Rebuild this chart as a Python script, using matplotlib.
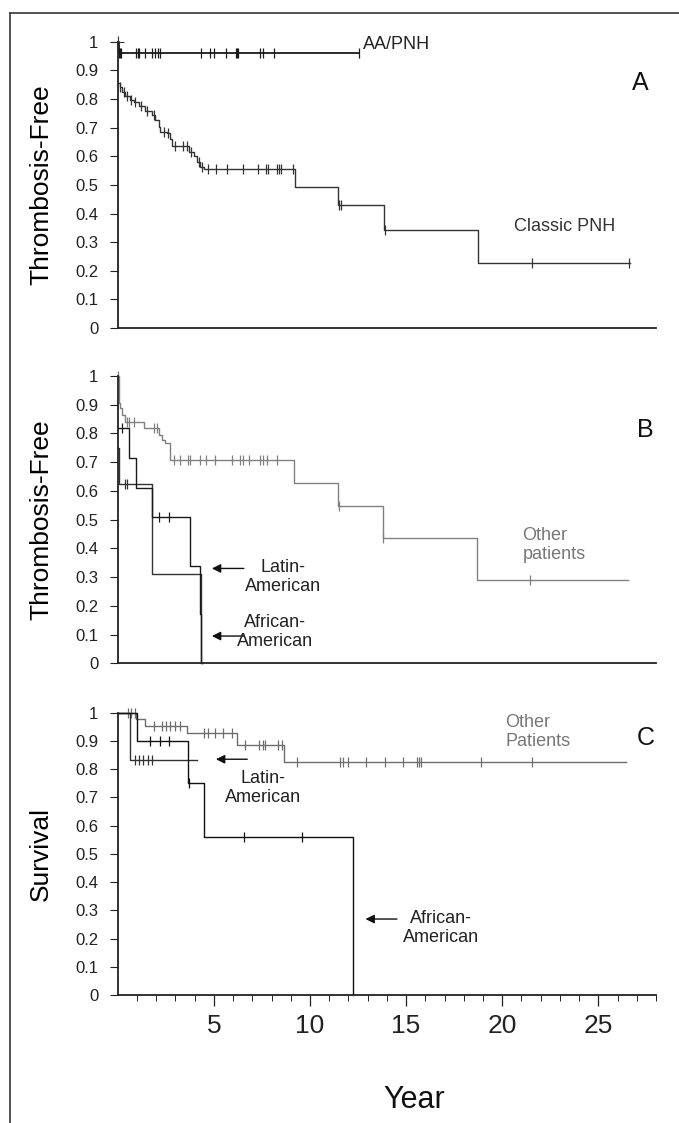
import numpy as np
import matplotlib
matplotlib.use("Agg")
import matplotlib.pyplot as plt
from matplotlib.lines import Line2D

plt.rcParams['font.family'] = ['Liberation Sans', 'DejaVu Sans']

# ---- panel A: thrombosis-free, AA/PNH vs classic PNH
aa_t = [0.0, 0.05, 12.54]
aa_s = [1.0, 0.96, 0.96]
aa_cens = [0.05, 0.09, 0.15, 0.95, 1.05, 1.12, 1.40, 1.78, 1.92, 2.07, 2.21, 4.31, 4.82,
           4.99, 5.65, 6.15, 6.21, 6.27, 7.42, 7.56, 8.11, 12.54]

cl_t = [0.0, 0.09, 0.22, 0.39, 0.65, 0.82, 1.08, 1.43, 1.78, 1.95, 2.13, 2.21, 2.56, 2.73,
        2.82, 3.69, 3.95, 4.13, 4.30, 4.47, 4.61, 9.20, 11.48, 13.87, 18.74, 26.64]
cl_s = [0.855, 0.843, 0.825, 0.81, 0.796, 0.79, 0.775, 0.759, 0.744, 0.726, 0.703, 0.686,
        0.68, 0.659, 0.636, 0.616, 0.601, 0.581, 0.563, 0.554, 0.554, 0.494, 0.43, 0.342,
        0.228, 0.228]
cl_cens = [0.1, 0.3, 0.5, 0.7, 0.9, 1.2, 1.5, 1.9, 2.4, 2.6, 3.0, 3.4, 3.6, 3.8, 4.2, 4.4,
           4.7, 5.1, 5.7, 6.5, 7.3, 7.7, 7.8, 8.3, 8.4, 8.5, 9.1, 11.5, 11.6, 13.9, 21.54, 26.6]

# ---- panel B: thrombosis-free by ethnicity
ob_t = [0.0, 0.04, 0.13, 0.22, 0.39, 1.34, 2.13, 2.30, 2.47, 2.73, 9.16, 11.45, 13.81, 18.71, 26.52]
ob_s = [1.0, 0.904, 0.887, 0.863, 0.84, 0.817, 0.794, 0.776, 0.765, 0.707, 0.626, 0.548,
        0.435, 0.29, 0.29]
ob_cens = [0.0, 0.48, 0.6, 0.82, 1.86, 2.04, 2.91, 3.26, 3.64, 3.74, 4.30, 4.61, 5.08, 5.95,
           6.38, 6.52, 6.81, 7.39, 7.56, 7.77, 8.29, 11.5, 13.81, 21.45]

lb_t = [0.0, 0.04, 1.78, 4.35, 4.4]
lb_s = [0.75, 0.625, 0.31, 0.0, 0.0]
lb_cens = [0.39, 0.48]

ab_t = [0.0, 0.56, 0.95, 1.78, 3.78, 4.3, 4.35, 4.4]
ab_s = [0.817, 0.713, 0.608, 0.51, 0.34, 0.17, 0.0, 0.0]
ab_cens = [0.24, 2.13, 2.65]

# ---- panel C: survival by ethnicity
oc_t = [0.0, 0.96, 1.4, 3.61, 6.22, 8.63, 26.45]
oc_s = [1.0, 0.977, 0.954, 0.927, 0.886, 0.826, 0.826]
oc_cens = [0.53, 0.7, 0.92, 1.88, 2.3, 2.5, 2.7, 3.0, 3.23, 4.48, 4.68, 5.06, 5.45, 5.93,
           6.6, 7.37, 7.57, 7.66, 8.34, 8.53, 9.3, 11.57, 11.71, 11.96, 12.92, 13.89,
           14.85, 15.56, 15.66, 15.76, 18.9, 21.54]

lc_t = [0.0, 0.63, 4.13]
lc_s = [1.0, 0.832, 0.832]
lc_cens = [0.92, 1.11, 1.3, 1.59, 1.79]

ac_t = [0.0, 1.01, 3.67, 4.5, 12.23, 12.25]
ac_s = [1.0, 0.90, 0.75, 0.559, 0.0, 0.0]
ac_cens = [1.69, 2.17, 2.65, 3.69, 6.55, 9.59]

yticks = [0, 0.1, 0.2, 0.3, 0.4, 0.5, 0.6, 0.7, 0.8, 0.9, 1]
ytick_labels = ["0", "0.1", "0.2", "0.3", "0.4", "0.5", "0.6", "0.7", "0.8", "0.9", "1"]
xticks = [5, 10, 15, 20, 25]


def km(ax, t, s, cens, color, lw=1.0):
    """step curve plus censor ticks"""
    ax.step(t, s, where="post", color=color, lw=lw, clip_on=False)
    t = np.asarray(t)
    s = np.asarray(s)
    idx = np.searchsorted(t, cens, side="right") - 1
    idx = np.clip(idx, 0, len(s) - 1)
    ax.plot(cens, s[idx], ls="none", marker="|", ms=7, mew=0.9, color=color, clip_on=False)


def style_axes(ax, show_xlabels):
    ax.set_xlim(0, 28)
    ax.set_ylim(0, 1)
    for side in ["top", "right"]:
        ax.spines[side].set_visible(False)
    for side in ["left", "bottom"]:
        ax.spines[side].set_linewidth(1.3)
        ax.spines[side].set_color("#222222")
    ax.set_yticks(yticks)
    ax.set_yticklabels(ytick_labels)
    ax.tick_params(axis="y", direction="out", length=6, width=0.8, labelsize=12,
                   colors="#222222", pad=8)
    ax.set_xticks(xticks)
    ax.set_xticks(np.arange(1, 29), minor=True)
    ax.tick_params(axis="x", which="major", direction="out", length=8, width=0.9,
                   labelsize=19, colors="#222222", pad=6)
    ax.tick_params(axis="x", which="minor", direction="out", length=4, width=0.7,
                   colors="#222222")
    if not show_xlabels:
        ax.set_xticklabels([])
        ax.tick_params(axis="x", which="both", length=0)


fig = plt.figure(figsize=(6.79, 11.23), dpi=100)

left, width = 0.1735, 0.7926
axA = fig.add_axes([left, 0.7079, width, 0.2549])
axB = fig.add_axes([left, 0.4093, width, 0.2561])
axC = fig.add_axes([left, 0.1140, width, 0.2514])

# panel A
km(axA, aa_t, aa_s, aa_cens, "#1a1a1a", lw=1.3)
km(axA, cl_t, cl_s, cl_cens, "#333333")
axA.plot([0], [1.0], ls="none", marker="+", ms=9, mew=0.8, color="#333333", clip_on=False)
style_axes(axA, False)
axA.set_ylabel("Thrombosis-Free", fontsize=19, labelpad=16)
axA.text(12.75, 0.99, "AA/PNH", fontsize=13, ha="left", va="center", color="#222222")
axA.text(20.6, 0.354, "Classic PNH", fontsize=13, ha="left", va="center", color="#333333")
axA.text(27.17, 0.856, "A", fontsize=18, ha="center", va="center", color="#111111")

# panel B
km(axB, ob_t, ob_s, ob_cens, "#808080")
km(axB, lb_t, lb_s, lb_cens, "#333333")
km(axB, ab_t, ab_s, ab_cens, "#1a1a1a")
style_axes(axB, False)
axB.set_ylabel("Thrombosis-Free", fontsize=19, labelpad=16)
axB.text(21.06, 0.41, "Other\npatients", fontsize=13, ha="left", va="center",
         color="#777777", linespacing=1.15)
axB.text(27.43, 0.811, "B", fontsize=18, ha="center", va="center", color="#111111")
arrow = dict(arrowstyle="-|>", color="#111111", lw=1.0, mutation_scale=13)
axB.annotate("", xy=(4.75, 0.33), xytext=(6.7, 0.33), arrowprops=arrow)
axB.text(8.6, 0.30, "Latin-\nAmerican", fontsize=13, ha="center", va="center",
         color="#222222", linespacing=1.15)
axB.annotate("", xy=(4.75, 0.095), xytext=(6.7, 0.095), arrowprops=arrow)
axB.text(8.2, 0.11, "African-\nAmerican", fontsize=13, ha="center", va="center",
         color="#222222", linespacing=1.15)

# panel C
km(axC, oc_t, oc_s, oc_cens, "#6e6e6e")
km(axC, lc_t, lc_s, lc_cens, "#333333")
km(axC, ac_t, ac_s, ac_cens, "#111111")
style_axes(axC, True)
axC.set_ylabel("Survival", fontsize=19, labelpad=16)
axC.text(20.15, 0.93, "Other\nPatients", fontsize=13, ha="left", va="center",
         color="#777777", linespacing=1.15)
axC.text(27.46, 0.910, "C", fontsize=18, ha="center", va="center", color="#111111")
axC.annotate("", xy=(4.96, 0.835), xytext=(6.88, 0.835), arrowprops=arrow)
axC.text(7.55, 0.733, "Latin-\nAmerican", fontsize=13, ha="center", va="center",
         color="#222222", linespacing=1.15)
axC.annotate("", xy=(12.74, 0.269), xytext=(14.67, 0.269), arrowprops=arrow)
axC.text(16.8, 0.236, "African-\nAmerican", fontsize=13, ha="center", va="center",
         color="#222222", linespacing=1.15)

fig.text(414 / 679, 1 - 1100 / 1123, "Year", fontsize=22, ha="center", va="center",
         color="#111111")

# outer frame (top and left edges of the original figure box)
fig.add_artist(Line2D([10 / 679, 10 / 679], [0, 1 - 12.7 / 1123], color="#444444", lw=1.3))
fig.add_artist(Line2D([10 / 679, 1], [1 - 12.7 / 1123, 1 - 12.7 / 1123], color="#444444", lw=1.3))

fig.savefig("out.png", dpi=100)
